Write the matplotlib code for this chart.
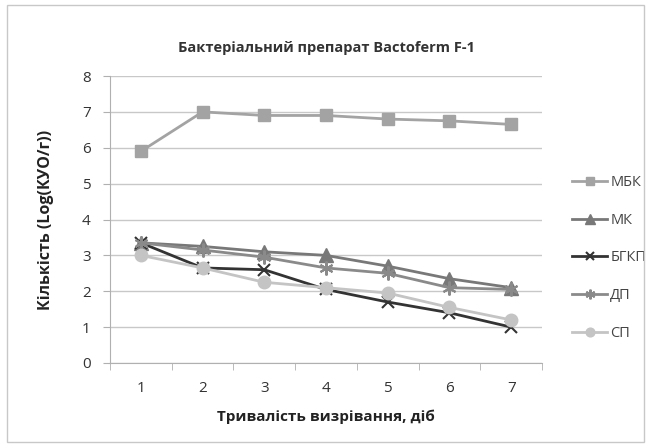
import numpy as np
import matplotlib
matplotlib.use("Agg")
import matplotlib.pyplot as plt
from matplotlib.patches import Rectangle

plt.rcParams['font.family'] = ['Open Sans', 'DejaVu Sans']

days = [1, 2, 3, 4, 5, 6, 7]
mbk = [5.9, 7.0, 6.9, 6.9, 6.8, 6.75, 6.65]
mk = [3.35, 3.25, 3.1, 3.0, 2.7, 2.35, 2.1]
bgkp = [3.35, 2.65, 2.6, 2.05, 1.7, 1.4, 1.0]
dp = [3.35, 3.15, 2.95, 2.65, 2.5, 2.1, 2.05]
sp = [3.0, 2.65, 2.25, 2.1, 1.95, 1.55, 1.2]
names = ['МБК', 'МК', 'БГКП', 'ДП', 'СП']

fig = plt.figure(figsize=(6.5, 4.47), dpi=100)
fig.patches.append(Rectangle((0.01, 0.012), 0.98, 0.976, transform=fig.transFigure,
                             fill=False, edgecolor='#c8c8c8', lw=1))
ax = fig.add_axes([110/650, 1 - 363/447, 432/650, 287/447])

x = np.arange(len(days))
ax.plot(x, mbk, color='#a3a3a3', lw=2, marker='s', ms=9, label=names[0])
ax.plot(x, mk, color='#787878', lw=2, marker='^', ms=10, label=names[1])
ax.plot(x, bgkp, color='#333333', lw=2, marker='x', ms=9, mew=1.5, label=names[2])
ax.plot(x, dp, color='#8a8a8a', lw=2, marker=(6, 2, 0), ms=10, mew=1.5, label=names[3])
ax.plot(x, sp, color='#c4c4c4', lw=2, marker='o', ms=9, label=names[4])

ax.set_xlim(-0.5, 6.5)
ax.set_ylim(0, 8)
ax.set_yticks(range(0, 9))
ax.set_xticks(x)
ax.set_xticklabels([str(d) for d in days])
ax.set_xticks(np.arange(-0.5, 7, 1), minor=True)
ax.tick_params(axis='x', which='major', length=0, labelsize=11, colors='#333333', pad=13)
ax.tick_params(axis='x', which='minor', length=5, color='#b0b0b0')
ax.tick_params(axis='y', length=5, color='#b0b0b0', labelsize=11, labelcolor='#333333', pad=9)
ax.grid(axis='y', color='#c8c8c8', lw=1)
ax.set_axisbelow(True)
for s in ['top', 'right']:
    ax.spines[s].set_visible(False)
ax.spines['left'].set_color('#b0b0b0')
ax.spines['bottom'].set_color('#b0b0b0')

ax.set_title('Бактеріальний препарат Bactoferm F-1', fontsize=10.5, fontweight='bold',
             color='#333333', pad=17)
ax.set_xlabel('Тривалість визрівання, діб', fontsize=11, fontweight='bold', color='#222222',
              labelpad=10)
ax.set_ylabel('Кількість (Log(КУО/г))', fontsize=11.5, fontweight='bold', color='#222222',
              labelpad=20)

ax.legend(loc='center left', bbox_to_anchor=(1.04, 0.366), frameon=False, fontsize=10.5,
          labelspacing=1.55, handlelength=2.4, handletextpad=0.2, markerscale=0.7,
          labelcolor='#444444')

fig.savefig('out.png', dpi=100)
